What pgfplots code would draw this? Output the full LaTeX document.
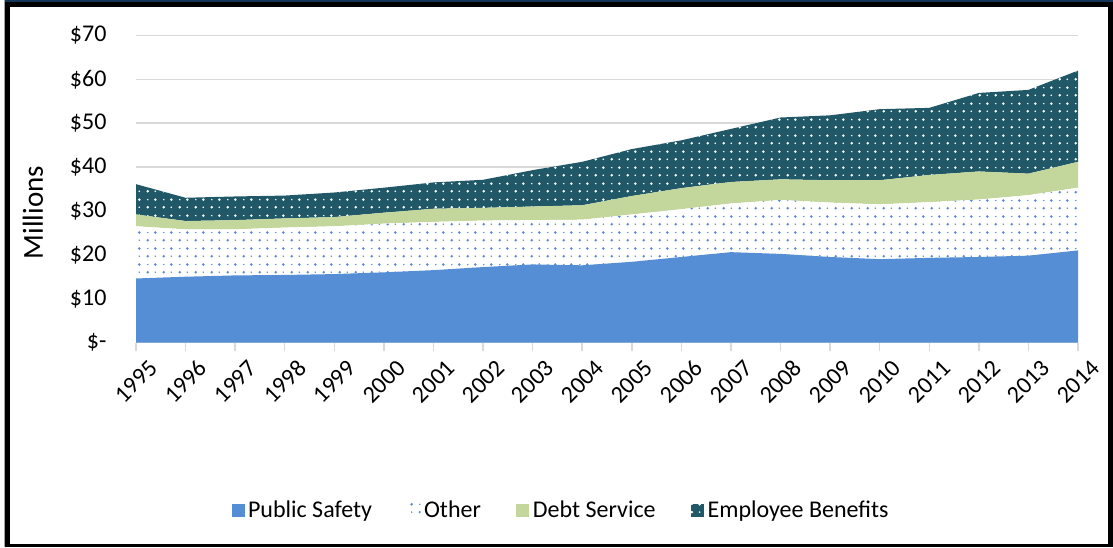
\documentclass[border=0pt]{standalone}
\usepackage{fontspec}
\setmainfont{Carlito}
\usepackage{pgfplots}
\pgfplotsset{compat=1.18}
\usepackage{pgfplotstable}
\usetikzlibrary{patterns}
\definecolor{psblue}{RGB}{85,142,213}
\definecolor{debtgreen}{RGB}{195,214,155}
\definecolor{ebteal}{RGB}{33,88,104}
\definecolor{gridgray}{RGB}{217,217,217}
\definecolor{topnavy}{RGB}{18,55,90}

\pgfdeclarepatternformonly{sdots}{\pgfqpoint{0pt}{0pt}}{\pgfqpoint{16pt}{16pt}}{\pgfqpoint{16pt}{16pt}}{%
  \pgfpathcircle{\pgfqpoint{4pt}{4pt}}{1.5pt}%
  \pgfpathcircle{\pgfqpoint{12pt}{12pt}}{1.5pt}%
  \pgfpathcircle{\pgfqpoint{12pt}{4pt}}{0.9pt}%
  \pgfpathcircle{\pgfqpoint{4pt}{12pt}}{0.9pt}%
  \pgfusepath{fill}}

\pgfplotstableread{
x ps other debt eb
0  14.6 11.9 2.7 6.9
1  15.0 10.8 1.9 5.3
2  15.3 10.5 2.1 5.4
3  15.4 10.8 2.1 5.2
4  15.6 10.9 2.1 5.6
5  16.0 11.1 2.5 5.7
6  16.5 11.0 3.0 6.0
7  17.2 10.6 2.9 6.4
8  17.8 10.1 3.1 8.3
9  17.6 10.4 3.3 9.9
10 18.4 10.8 4.2 10.7
11 19.5 10.9 4.8 10.9
12 20.6 11.1 4.9 12.1
13 20.2 12.3 4.7 14.1
14 19.5 12.4 5.1 14.8
15 19.0 12.5 5.5 16.2
16 19.3 12.7 6.2 15.3
17 19.5 13.1 6.4 17.9
18 19.8 13.8 4.9 19.1
19 21.0 14.3 5.9 20.8
}\datatable

\begin{document}
\begin{tikzpicture}[x=1pt,y=1pt]
\fill[white] (0,0) rectangle (1113,546);
\fill[black] (5,0) rectangle (1113,544);
\fill[topnavy] (5,544) rectangle (1113,546);
\fill[white] (10,3) rectangle (1108,539);
\draw[gray!70, line width=1pt] (4.5,0) -- (4.5,546);
\node[rotate=90, font=\fontsize{29}{34}\selectfont] at (33,334) {Millions};
\begin{axis}[
  at={(136pt,204pt)}, anchor=south west,
  scale only axis, width=942pt, height=307pt,
  xmin=0, xmax=19, ymin=0, ymax=70,
  stack plots=y,
  xtick={0,...,19},
  xticklabels={1995,1996,1997,1998,1999,2000,2001,2002,2003,2004,2005,2006,2007,2008,2009,2010,2011,2012,2013,2014},
  ytick={0,10,...,70},
  yticklabels={\$-,\$10,\$20,\$30,\$40,\$50,\$60,\$70},
  /pgf/number format/assume math mode=true,
  axis x line*=bottom, axis y line*=left,
  y axis line style={draw=none},
  x axis line style={draw=gridgray, line width=1.5pt, -},
  ytick style={draw=none},
  xtick style={draw=gridgray, line width=1.5pt},
  tick align=outside, major tick length=8pt,
  ymajorgrids, grid style={draw=gridgray, line width=1.5pt},
  ticklabel style={font=\fontsize{24}{28}\selectfont, text=black},
  yticklabel style={xshift=-18pt},
  xticklabel style={rotate=45, anchor=east, yshift=-22pt, xshift=6pt},
  legend columns=4,
  legend style={at={(0.452,-0.546)}, anchor=center, draw=none, fill=none,
    font=\fontsize{24}{28}\selectfont,
    /tikz/every even column/.append style={column sep=32pt},
    nodes={inner sep=3.5pt}},
  legend image code/.code={\path[#1,draw=none] (0pt,-6.5pt) rectangle (13pt,6.5pt);},
]
\addplot[fill=psblue, draw=none] table[x=x,y=ps]{\datatable} \closedcycle;
\addlegendentry{Public Safety}
\addplot[fill=white, draw=none, postaction={pattern=sdots, pattern color=psblue}] table[x=x,y=other]{\datatable} \closedcycle;
\addlegendentry{Other}
\addplot[fill=debtgreen, draw=none] table[x=x,y=debt]{\datatable} \closedcycle;
\addlegendentry{Debt Service}
\addplot[fill=ebteal, draw=none, postaction={pattern=sdots, pattern color=white}] table[x=x,y=eb]{\datatable} \closedcycle;
\addlegendentry{Employee Benefits}
\end{axis}
\end{tikzpicture}
\end{document}
